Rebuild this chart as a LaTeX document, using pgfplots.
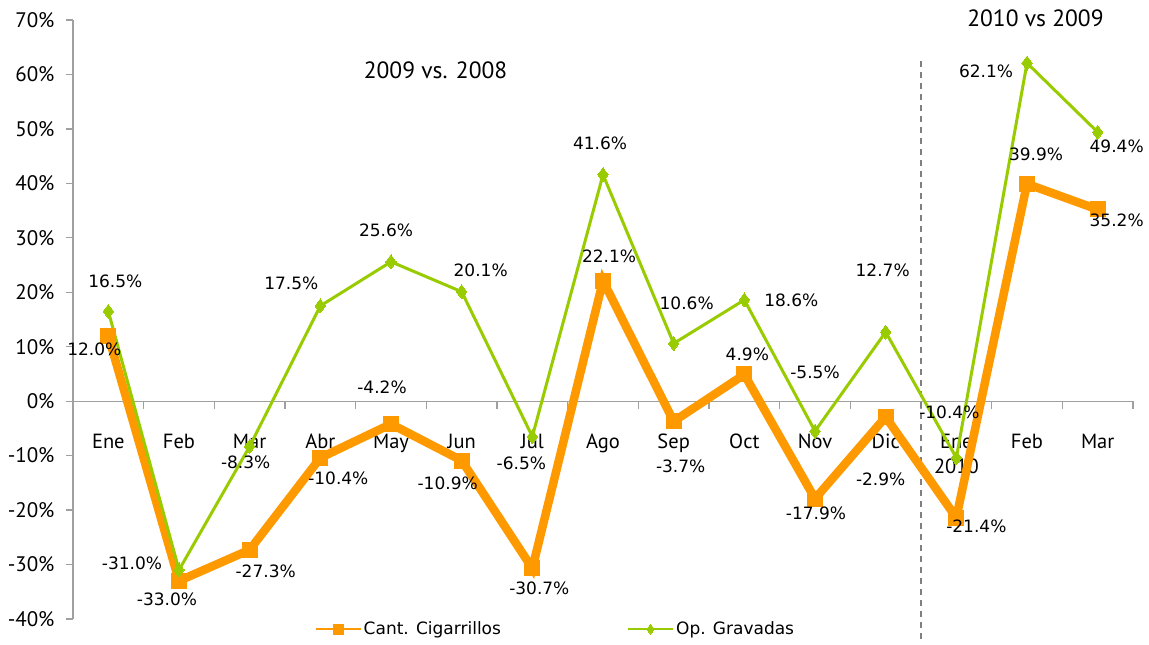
\documentclass[border=0pt]{standalone}
\usepackage{pgfplots}
\pgfplotsset{compat=1.18}
\usepackage{fontspec}
\setmainfont{PT Sans}
\newfontfamily\lblfont{DejaVu Sans}
\definecolor{cOr}{HTML}{FF9900}
\definecolor{cGr}{HTML}{99CC00}
\definecolor{cAx}{HTML}{A0A0A0}
\begin{document}
\begin{tikzpicture}
\begin{axis}[
  scale only axis, width=1060pt, height=599pt,
  xmin=-0.5, xmax=14.5, ymin=-40, ymax=70,
  axis x line=middle, axis y line=left,
  axis line style={cAx, line width=1.2pt, -},
  x axis line style={-}, y axis line style={-},
  xtick={0,...,14},
  xticklabels={Ene,Feb,Mar,Abr,May,Jun,Jul,Ago,Sep,Oct,Nov,Dic,{Ene\\2010},Feb,Mar},
  major x tick style={draw=none},
  minor xtick={-0.5,0.5,...,14.5},
  minor x tick style={cAx, line width=1.2pt},
  minor tick length=8pt,
  xtick align=outside,
  xticklabel style={font=\fontsize{20.5}{25}\selectfont, align=center, anchor=north, yshift=-22pt},
  ytick={-40,-30,...,70},
  yticklabels={-40\%,-30\%,-20\%,-10\%,0\%,10\%,20\%,30\%,40\%,50\%,60\%,70\%},
  ytick align=outside, major tick length=7pt,
  major y tick style={cAx, line width=1.2pt},
  yticklabel style={font=\fontsize{21}{24}\selectfont, anchor=east, xshift=-8pt},
  clip=false,
  nodes near coords={\pgfmathprintnumber[fixed,fixed zerofill,precision=1,assume math mode=true]{\pgfplotspointmeta}\%},
  point meta=y,
  visualization depends on={\thisrow{dx} \as \dx},
  visualization depends on={\thisrow{dy} \as \dy},
  every node near coord/.append style={font=\lblfont\fontsize{17}{20}\selectfont, text=black, anchor=center, xshift=\dx pt, yshift=\dy pt},
  legend style={at={(0.455,-0.017)}, anchor=center, draw=none, fill=none, legend columns=2,
    font=\lblfont\fontsize{17}{20}\selectfont,
    /tikz/every even column/.append style={column sep=124pt}},
  legend image code/.code={\draw[mark repeat=2,mark phase=2,line width=2.2pt,mark size=5pt] plot coordinates {(0pt,0pt) (22.5pt,0pt) (45pt,0pt)};},
]
\draw[gray, dashed, line width=1.5pt, dash pattern=on 6pt off 5pt] (axis cs:11.5,62.4) -- (axis cs:11.5,-44.5);
\addplot[cOr, line width=8.5pt, mark=square*, mark size=7.5pt, mark options={fill=cOr, line width=0pt}] table {
x y dx dy
0 12.0 -14 -13
1 -33.0 -12 -18
2 -27.3 16 -21
3 -10.4 18 -20
4 -4.2 -9 37
5 -10.9 -14 -23
6 -30.7 7 -20
7 22.1 6 25
8 -3.7 7 -45
9 4.9 3 20
10 -17.9 1 -15
11 -2.9 -5 -62
12 -21.4 20 -9
13 39.9 9 30
14 35.2 19 -11
};
\addlegendentry{Cant. Cigarrillos}
\addplot[cGr, line width=3pt, mark=diamond*, mark size=7pt, mark options={fill=cGr, line width=0pt}] table {
x y dx dy
0 16.5 7 30
1 -31.0 -47 7
2 -8.3 -4 -16
3 17.5 -29 23
4 25.6 -5 31
5 20.1 19 21
6 -6.5 -11 -27
7 41.6 -3 31
8 10.6 13 40
9 18.6 47 0
10 -5.5 0 59
11 12.7 -3 62
12 -10.4 -7 46
13 62.1 -41 -8
14 49.4 19 -14
};
\addlegendentry{Op. Gravadas}
\node[font=\fontsize{23.5}{26}\selectfont] at (axis cs:4.63,60.8) {2009 vs. 2008};
\node[font=\fontsize{23.5}{26}\selectfont] at (axis cs:13.12,70.3) {2010 vs 2009};
\end{axis}
\pgfresetboundingbox
\path[use as bounding box] ([xshift=-73pt,yshift=-25pt]current axis.south west) rectangle ([xshift=16pt,yshift=20pt]current axis.north east);
\end{tikzpicture}
\end{document}
